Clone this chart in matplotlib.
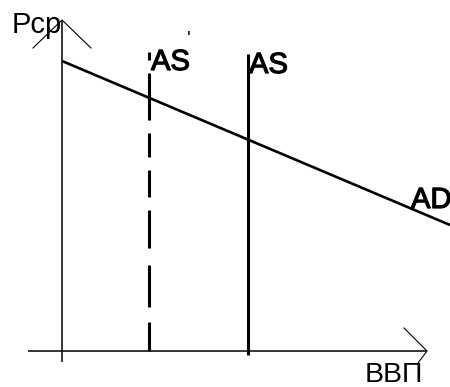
import matplotlib
matplotlib.use("Agg")
import matplotlib.pyplot as plt
import matplotlib.patheffects as pe

# Schematic data (origin at the intersection of the axes)
ad_x = [0, 388]
ad_y = [290, 126]
as_short_x = [87, 87]       # AS' (dashed)
as_short_y = [0, 299]
as_long_x = [186, 186]      # AS (solid)
as_long_y = [-4, 297]
yaxis_x = [0, 0]
yaxis_y = [-11, 331]
xaxis_x = [-34, 365]
xaxis_y = [0, 0]
yarrow_x = [-29, 0, 29]
yarrow_y = [303, 331, 303]
xarrow_x = [342, 365, 356]
xarrow_y = [23, 0, -12]

labels = {"y": "Рср", "x": "ВВП", "as1": "AS", "as2": "AS", "ad": "AD"}

fig = plt.figure(figsize=(4.5, 3.87), dpi=100)
ax = fig.add_axes([0, 0, 1, 1])
ax.set_xlim(-62, 388)
ax.set_ylim(-36, 351)
ax.axis("off")

k = "black"
ax.plot(yaxis_x, yaxis_y, color=k, lw=1.1, solid_capstyle="butt")
ax.plot(xaxis_x, xaxis_y, color=k, lw=1.1, solid_capstyle="butt")
ax.plot(yarrow_x, yarrow_y, color=k, lw=0.8)
ax.plot(xarrow_x, xarrow_y, color=k, lw=0.8)

ax.plot(ad_x, ad_y, color=k, lw=1.9, solid_capstyle="butt")
ax.plot(as_long_x, as_long_y, color=k, lw=2.2, solid_capstyle="butt")
dash = [v * 0.72 / 2.2 for v in [8, 13, 47, 13, 24, 13, 27, 13, 38, 17, 42, 15, 29, 40]]
ax.plot(as_short_x[::-1], as_short_y[::-1], color=k, lw=2.2,
        dash_capstyle="butt", dashes=dash)

fam = ["Liberation Sans", "DejaVu Sans"]
thick = [pe.withStroke(linewidth=0.9, foreground=k)]
ax.text(-50, 318, labels["y"], fontsize=21, family=fam, ha="left", va="baseline")
ax.text(303, -31, labels["x"], fontsize=20.5, family=fam, ha="left", va="baseline")
ax.text(89, 281, labels["as1"], fontsize=21, family=fam, ha="left", va="baseline",
        path_effects=thick)
ax.text(125, 307, "'", fontsize=14, family=fam, ha="left", va="baseline")
ax.text(187, 278, labels["as2"], fontsize=21, family=fam, ha="left", va="baseline",
        path_effects=thick)
ax.text(349, 143, labels["ad"], fontsize=21, family=fam, ha="left", va="baseline",
        path_effects=thick)

fig.savefig("out.png", dpi=100)
